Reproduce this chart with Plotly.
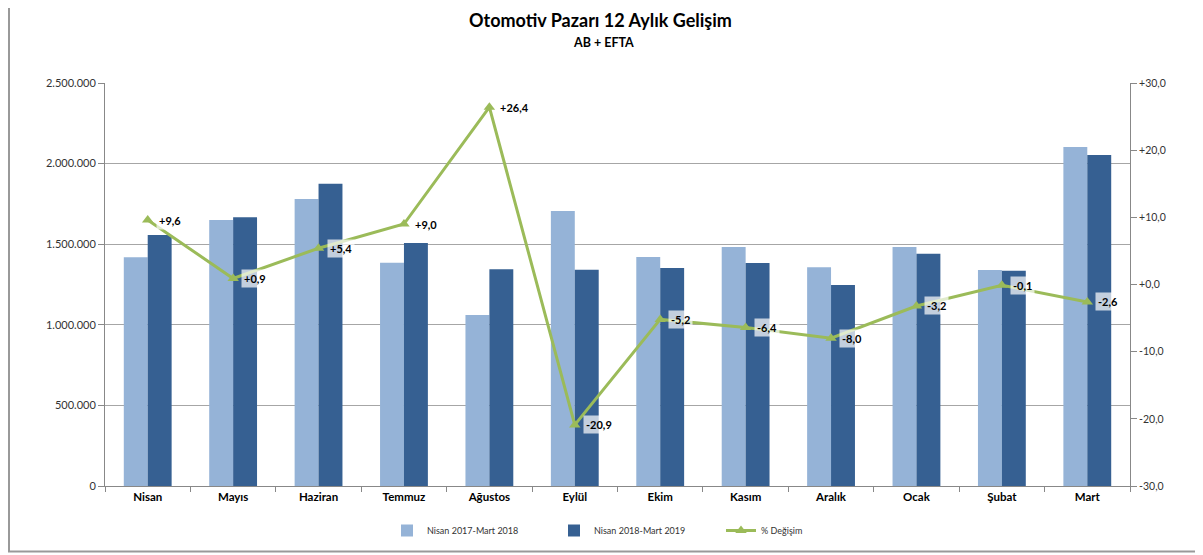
import plotly.graph_objects as go

months = ["Nisan", "Mayıs", "Haziran", "Temmuz", "Ağustos", "Eylül",
          "Ekim", "Kasım", "Aralık", "Ocak", "Şubat", "Mart"]
prev_year = [1419000, 1650000, 1780000, 1385000, 1061000, 1706000,
             1420000, 1483000, 1357000, 1483000, 1340000, 2103000]
curr_year = [1557000, 1667000, 1875000, 1507000, 1344000, 1342000,
             1352000, 1383000, 1247000, 1440000, 1336000, 2053000]
pct_change = [9.6, 0.9, 5.4, 9.0, 26.4, -20.9, -5.2, -6.4, -8.0, -3.2, -0.1, -2.6]
series_names = ["Nisan 2017-Mart 2018", "Nisan 2018-Mart 2019", "% Değişim"]
pct_ticks = [-30, -20, -10, 0, 10, 20, 30]


def fmt_pct(v):
    return ("+" if v >= 0 else "-") + f"{abs(v):.1f}".replace(".", ",")


FONT = "Lato"
# page body has an 8px margin, so figure coords = screen coords - 8
W, H = 1195, 547
L, T = 97, 75
R = W - 1122
B = H - 478
PW, PH = W - L - R, H - T - B

fig = go.Figure()
fig.add_trace(go.Bar(x=months, y=prev_year, name=series_names[0],
                     marker=dict(color="#95B3D7", line=dict(width=0))))
fig.add_trace(go.Bar(x=months, y=curr_year, name=series_names[1],
                     marker=dict(color="#366092", line=dict(width=0))))
fig.add_trace(go.Scatter(x=months, y=pct_change, name=series_names[2], yaxis="y2",
                         mode="lines+markers",
                         line=dict(color="#9BBB59", width=3),
                         marker=dict(symbol="triangle-up", size=10, color="#9BBB59")))

for m, v in zip(months, pct_change):
    fig.add_annotation(x=m, y=v, xref="x", yref="y2", text="<b>" + fmt_pct(v) + "</b>",
                       showarrow=False, xanchor="left", yanchor="middle", xshift=8,
                       bgcolor="rgba(255,255,255,0.7)", borderpad=2,
                       font=dict(family=FONT, size=11, color="#000"))


def py(y):
    return (H - B - y) / PH


def px(x):
    return (x - L) / PW


fig.add_annotation(x=px(592), y=py(12), xref="paper", yref="paper",
                   text="<b>Otomotiv Pazarı 12 Aylık Gelişim</b>", showarrow=False,
                   xanchor="center", yanchor="middle",
                   font=dict(family=FONT, size=18, color="#000"))
fig.add_annotation(x=px(595), y=py(34), xref="paper", yref="paper",
                   text="<b>AB + EFTA</b>", showarrow=False,
                   xanchor="center", yanchor="middle",
                   font=dict(family=FONT, size=12.5, color="#000"))

fig.update_layout(
    width=W, height=H,
    paper_bgcolor="white", plot_bgcolor="white",
    separators=",.",
    margin=dict(l=L, r=R, t=T, b=B, autoexpand=False),
    barmode="group", bargap=0.44, bargroupgap=0,
    font=dict(family=FONT, size=11, color="#333"),
    xaxis=dict(range=[-0.5, len(months) - 0.5], autorange=False,
               showline=True, linecolor="#888", linewidth=1, ticks="outside",
               tickson="boundaries", ticklen=5, tickcolor="#888", automargin=False,
               tickfont=dict(family=FONT, size=11.5, color="#000", weight="bold")),
    yaxis=dict(range=[0, 2500000], dtick=500000, tickformat=",d",
               showgrid=True, gridcolor="#A6A6A6", gridwidth=1,
               showline=True, linecolor="#888", ticks="outside", ticklen=6,
               tickcolor="#888", zeroline=False, automargin=False,
               tickfont=dict(family=FONT, size=11, color="#333")),
    yaxis2=dict(range=[-30, 30], tickmode="array", tickvals=pct_ticks,
                ticktext=[fmt_pct(t) for t in pct_ticks], overlaying="y",
                side="right", showgrid=False, zeroline=False, showline=True,
                linecolor="#888", ticks="outside", ticklen=6, tickcolor="#888",
                automargin=False,
                tickfont=dict(family=FONT, size=10.5, color="#333")),
    legend=dict(orientation="h", x=px(379), xanchor="left", y=py(508), yanchor="top",
                font=dict(family=FONT, size=9, color="#333"),
                itemwidth=30, entrywidth=122),
    shapes=[dict(type="rect", xref="paper", yref="paper",
                 x0=px(1), x1=px(1188), y0=py(543.5), y1=py(-20),
                 line=dict(color="#999", width=2), fillcolor="rgba(0,0,0,0)",
                 layer="below")],
)

fig.write_html("out.html")
